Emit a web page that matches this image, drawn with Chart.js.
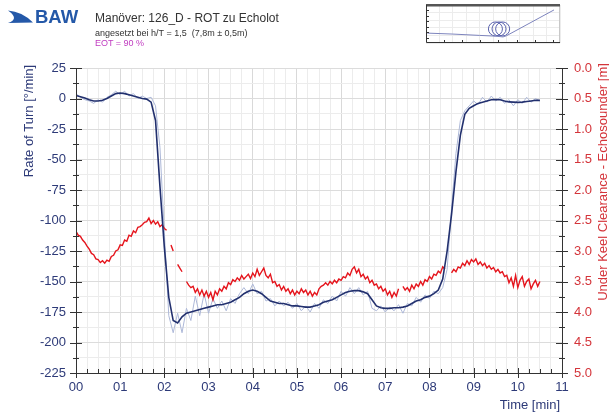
<!DOCTYPE html>
<html><head><meta charset="utf-8">
<script src="https://cdn.jsdelivr.net/npm/chart.js@4.4.1/dist/chart.umd.min.js"></script>
<style>
html,body{margin:0;padding:0;background:#fff;}
#wrap{position:relative;width:609px;height:414px;overflow:hidden;font-family:"Liberation Sans",Arial,sans-serif;}
#main{position:absolute;left:0;top:0;}
#inset{position:absolute;left:425px;top:4px;}
.hdr{position:absolute;white-space:nowrap;line-height:1;}
</style></head><body>
<div id="wrap">
<canvas id="main" width="609" height="414"></canvas>
<svg class="hdr" style="left:7px;top:9px" width="28" height="16" viewBox="0 0 28 16">
  <path d="M1,1.5 Q15,2.5 26,13.5 L1,14 Q13,10 1,1.5 Z" fill="#2458a8"/>
</svg>
<div class="hdr" style="left:35px;top:7.5px;font-size:18.5px;font-weight:bold;color:#2458a8;">BAW</div>
<div class="hdr" style="left:95px;top:11.5px;font-size:12px;color:#333;">Manöver: 126_D - ROT zu Echolot</div>
<div class="hdr" style="left:95px;top:29px;font-size:9px;color:#333;">angesetzt bei h/T = 1,5&nbsp; (7,8m ± 0,5m)</div>
<div class="hdr" style="left:95px;top:38.5px;font-size:9px;color:#c03cc0;">EOT = 90 %</div>
<canvas id="inset" width="136" height="40"></canvas>
</div>
<script>
// ---- data ----
const rotStep = 0.1;   // minutes between samples of rate of turn
const ukcStep = 0.05;  // minutes between samples of under keel clearance

// Rate of Turn, smoothed [°/min]
const rotSmooth = [2.5,1.5,0.5,-1,-2,-2,-1.5,0,2,4,
 4.5,4,3,2,1,0,-0.5,-3,-18,-72,
 -122,-163,-182,-184,-179,-176,-175,-174,-173,-172,
 -171,-170,-169,-169,-168,-167,-165,-163,-160,-158,
 -157,-158,-160,-163,-166,-167,-168,-168,-169,-170,
 -170,-170.5,-171,-171,-170,-169,-167,-166,-165,-163,
 -161,-159,-158,-157.5,-157.5,-158.5,-160,-165,-170,-171.5,
 -172,-172,-171.5,-171.5,-171,-170,-168,-166,-165,-163,
 -162,-160,-157,-148,-125,-95,-60,-30,-13,-8,
 -6,-4,-3,-2,-1,-0.8,-1,-2,-2.8,-3,
 -3.2,-3,-2.5,-2,-1.5,-1.5];

// Rate of Turn, raw [°/min]
const rotRaw = [4,1,-1,-2,-4,-1,-3,1,3,6,
 3,6,2,4,0,2,0,1,-6,-40,
 -110,-178,-192,-176,-192,-172,-182,-162,-178,-160,
 -176,-164,-172,-166,-174,-164,-168,-160,-155,-160,
 -152,-160,-158,-166,-164,-170,-166,-170,-167,-172,
 -168,-174,-170,-175,-168,-172,-165,-168,-162,-166,
 -158,-162,-155,-160,-155,-161,-158,-172,-174,-170,
 -175,-171,-174,-169,-176,-168,-170,-163,-167,-161,
 -164,-158,-160,-155,-140,-90,-45,-18,-10,-6,
 -2,-5,1,-3,2,-2,1,-4,-1,-6,
 -1,-4,1,-3,0,-2];

// Under Keel Clearance - Echosounder [m]
const ukc = [2.68,2.74,2.76,2.82,2.86,2.92,2.97,3.04,3.06,3.13,3.14,3.19,3.16,3.20,3.15,3.17,3.09,3.07,3.00,2.98,
 2.90,2.91,2.82,2.84,2.74,2.76,2.67,2.70,2.61,2.60,2.57,2.53,2.52,2.46,2.55,2.50,2.56,2.52,2.60,2.57,
 2.63,2.66,null,2.90,3.00,null,3.22,3.28,3.34,null,3.50,3.56,3.60,3.58,3.68,3.62,3.72,3.64,3.74,3.66,
 3.76,3.68,3.80,3.66,3.72,3.62,3.66,3.58,3.62,3.52,3.55,3.47,3.50,3.44,3.48,3.40,3.46,3.42,3.38,3.45,
 3.36,3.42,3.30,3.40,3.34,3.28,3.40,3.44,3.38,3.52,3.50,3.58,3.55,3.64,3.58,3.66,3.62,3.70,3.64,3.72,
 3.66,3.70,3.62,3.68,3.64,3.72,3.66,3.74,3.68,3.72,3.62,3.58,3.56,3.52,3.56,3.50,3.54,3.48,3.52,3.46,
 3.48,3.42,3.44,3.36,3.40,3.30,3.26,3.36,3.30,3.42,3.38,3.46,3.42,3.52,3.48,3.56,3.54,3.62,3.58,3.66,
 3.62,3.72,3.66,3.76,3.68,3.74,3.62,null,3.58,3.64,3.60,3.66,3.56,3.62,3.54,3.58,3.50,3.56,3.47,3.50,
 3.42,3.46,3.38,3.40,3.33,3.36,3.26,3.30,null,null,3.36,3.30,3.34,3.26,3.28,3.20,3.24,3.16,3.22,3.14,
 3.18,3.13,3.22,3.18,3.24,3.20,3.28,3.24,3.30,3.27,3.34,3.30,3.36,3.34,3.42,3.40,3.52,3.44,3.58,3.40,
 3.60,3.48,3.42,3.58,3.50,3.46,3.62,3.54,3.48,3.58,3.50];

// inset track (relative units 0..100)
const trackX = [1,20,40,52,57.5,60,95.5];
const trackY = [26,23.5,20,18,16,19,87];
const loopX = [51.8,54.5,57.2];
const loopY = [37,37,37];

// axis settings
const timeMin = 0, timeMax = 11;
const rotMin = -225, rotMax = 25;
const ukcMin = 0, ukcMax = 5;

// ---- build ----
const toXY = (arr, step) => arr.map((v,i)=>({x:+(i*step).toFixed(3), y:v}));
const NAVY = '#2d3a78', RED = '#d4343a';
const FONT = '"Liberation Sans", Arial, sans-serif';
const isInt = v => Math.abs(v - Math.round(v)) < 1e-9;

const decoPlugin = {
  id:'deco',
  afterDraw(chart){
    const {ctx, chartArea:a, scales} = chart;
    const x = scales.x, y = scales.y, y2 = scales.y2;
    ctx.save();
    ctx.strokeStyle = '#333'; ctx.lineWidth = 1;
    ctx.beginPath();
    ctx.moveTo(a.left+0.5, a.top); ctx.lineTo(a.left+0.5, a.bottom+0.5);
    ctx.lineTo(a.right+0.5, a.bottom+0.5); ctx.lineTo(a.right+0.5, a.top);
    ctx.stroke();
    ctx.beginPath();
    x.ticks.forEach(t=>{
      const px = Math.round(x.getPixelForValue(t.value))+0.5;
      const maj = isInt(t.value);
      ctx.moveTo(px, a.bottom-(maj?5:4)); ctx.lineTo(px, a.bottom+(maj?5:1));
    });
    y.ticks.forEach(t=>{
      const py = Math.round(y.getPixelForValue(t.value))+0.5;
      const maj = Math.abs(t.value % 25) < 1e-9;
      ctx.moveTo(a.left-(maj?6:3), py); ctx.lineTo(a.left+(maj?6:3), py);
    });
    y2.ticks.forEach(t=>{
      const py = Math.round(y2.getPixelForValue(t.value))+0.5;
      const maj = isInt(t.value*2);
      ctx.moveTo(a.right-(maj?6:3), py); ctx.lineTo(a.right+(maj?6:3), py);
    });
    ctx.stroke();
    ctx.font = '13px ' + FONT;
    ctx.textBaseline = 'middle';
    ctx.fillStyle = NAVY; ctx.textAlign = 'center';
    ctx.save(); ctx.translate(29, 121); ctx.rotate(-Math.PI/2);
    ctx.fillText('Rate of Turn [°/min]', 0, 0); ctx.restore();
    ctx.fillStyle = RED;
    ctx.save(); ctx.translate(603, 182); ctx.rotate(-Math.PI/2);
    ctx.fillText('Under Keel Clearance - Echosounder [m]', 0, 0); ctx.restore();
    ctx.fillStyle = NAVY; ctx.textAlign = 'right'; ctx.textBaseline = 'alphabetic';
    ctx.fillText('Time [min]', 560, 409);
    ctx.restore();
  }
};

new Chart(document.getElementById('main'), {
  type:'line',
  data:{datasets:[
    {data:toXY(rotSmooth, rotStep), yAxisID:'y', borderColor:'#22306e', borderWidth:1.6, order:0},
    {data:toXY(ukc, ukcStep), yAxisID:'y2', borderColor:'#e5141c', borderWidth:1.4, order:1, spanGaps:false},
    {data:toXY(rotRaw, rotStep), yAxisID:'y', borderColor:'#adb8d8', borderWidth:1, order:2}
  ]},
  options:{
    responsive:false, animation:false,
    layout:{autoPadding:false, padding:{top:68,left:0,right:0,bottom:0}},
    elements:{point:{radius:0}, line:{tension:0}},
    plugins:{legend:{display:false}, tooltip:{enabled:false}},
    scales:{
      x:{type:'linear', min:timeMin, max:timeMax,
        afterFit:s=>{s.height=41;},
        border:{display:false},
        grid:{drawTicks:false, color:c=> (c.tick && isInt(c.tick.value)) ? '#d9d9d9' : '#ececec'},
        ticks:{stepSize:0.25, autoSkip:false, maxRotation:0, padding:7, color:NAVY, font:{size:13, family:FONT},
          callback:v=> isInt(v) ? String(Math.round(v)).padStart(2,'0') : ''}},
      y:{type:'linear', position:'left', min:rotMin, max:rotMax,
        afterFit:s=>{s.width=76;},
        border:{display:false},
        grid:{drawTicks:false, color:c=> (c.tick && Math.abs(c.tick.value%25)<1e-9) ? '#dcdcdc' : '#ececec'},
        ticks:{stepSize:12.5, autoSkip:false, padding:10, color:NAVY, font:{size:13, family:FONT},
          callback:v=> Math.abs(v%25)<1e-9 ? String(v) : ''}},
      y2:{type:'linear', position:'right', reverse:true, min:ukcMin, max:ukcMax,
        afterFit:s=>{s.width=47;},
        border:{display:false},
        grid:{drawTicks:false, drawOnChartArea:false},
        ticks:{stepSize:0.25, autoSkip:false, padding:12, color:RED, font:{size:13, family:FONT},
          callback:v=> isInt(v*2) ? v.toFixed(1) : ''}}
    }
  },
  plugins:[decoPlugin]
});

// ---- inset ----
const insetPlugin = {
  id:'insetDeco',
  afterDraw(chart){
    const {ctx, chartArea:a} = chart;
    ctx.save();
    ctx.strokeStyle = '#c8c8c8'; ctx.lineWidth = 1;
    ctx.beginPath(); ctx.moveTo(a.right-0.5, a.top); ctx.lineTo(a.right-0.5, a.bottom); ctx.stroke();
    ctx.fillStyle = '#555';
    ctx.fillRect(a.left, a.top-1, a.right-a.left, 2.5);
    ctx.strokeStyle = '#333';
    ctx.beginPath();
    ctx.moveTo(a.left+0.5, a.top); ctx.lineTo(a.left+0.5, a.bottom-0.5); ctx.lineTo(a.right, a.bottom-0.5);
    for (let i=1;i<=6;i++){ const py = Math.round(a.top + i*(a.bottom-a.top)/7)+0.5; ctx.moveTo(a.left, py); ctx.lineTo(a.left+3, py); }
    for (let i=1;i<=7;i++){ const px = Math.round(a.left + i*(a.right-a.left)/7.4)+0.5; ctx.moveTo(px, a.bottom-3); ctx.lineTo(px, a.bottom); }
    ctx.stroke();
    ctx.restore();
  }
};
new Chart(document.getElementById('inset'), {
  type:'scatter',
  data:{datasets:[
    {data:trackX.map((v,i)=>({x:v,y:trackY[i]})), showLine:true, pointRadius:0, borderColor:'#7d84bd', borderWidth:1},
    {data:loopX.map((v,i)=>({x:v,y:loopY[i]})), showLine:false, pointRadius:7, pointStyle:'circle',
      backgroundColor:'rgba(0,0,0,0)', borderColor:'#5a62ad', borderWidth:1}
  ]},
  options:{
    responsive:false, animation:false,
    layout:{autoPadding:false, padding:{left:1,right:1,top:1,bottom:1}},
    plugins:{legend:{display:false}, tooltip:{enabled:false}},
    scales:{
      x:{type:'linear', min:0, max:100, afterFit:s=>{s.height=0;}, border:{display:false},
        grid:{drawTicks:false, color:'#ececec'}, ticks:{display:false, stepSize:10}},
      y:{type:'linear', min:0, max:100, afterFit:s=>{s.width=0;}, border:{display:false},
        grid:{drawTicks:false, color:'#ececec'}, ticks:{display:false, stepSize:20}}
    }
  },
  plugins:[insetPlugin]
});
</script>
</body></html>
